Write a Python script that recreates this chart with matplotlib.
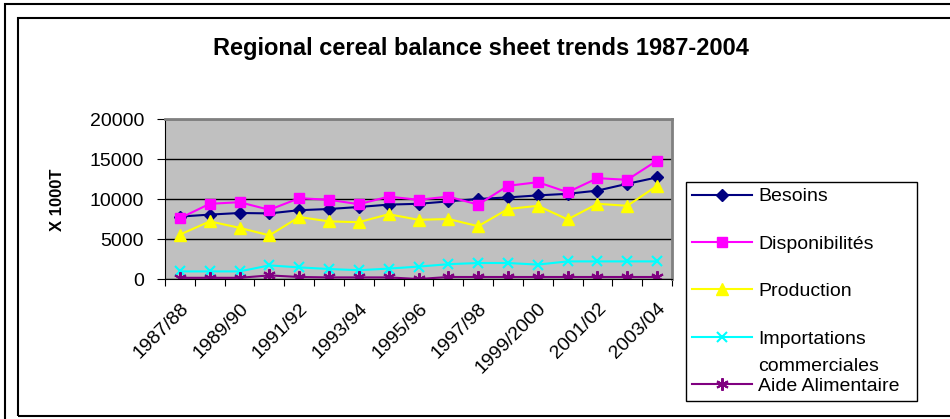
import matplotlib.pyplot as plt
from matplotlib.patches import Rectangle
import numpy as np

seasons = ["1987/88", "1988/89", "1989/90", "1990/91", "1991/92", "1992/93",
           "1993/94", "1994/95", "1995/96", "1996/97", "1997/98", "1998/99",
           "1999/2000", "2000/01", "2001/02", "2002/03", "2003/04"]
besoins = [7800, 8050, 8250, 8200, 8600, 8750, 9000, 9300, 9400,
           9700, 10000, 10200, 10450, 10650, 11050, 11900, 12700]
disponibilites = [7600, 9400, 9600, 8650, 10100, 9900, 9350, 10300, 9900,
                  10300, 9300, 11650, 12100, 10850, 12600, 12400, 14800]
production = [5550, 7200, 6400, 5450, 7750, 7200, 7100, 8100, 7400,
              7500, 6600, 8750, 9150, 7450, 9400, 9150, 11650]
importations = [950, 950, 950, 1700, 1450, 1250, 1100, 1300, 1550,
                1850, 2000, 2000, 1800, 2200, 2200, 2200, 2200]
aide = [150, 150, 150, 450, 250, 200, 200, 200, 0,
        250, 250, 250, 250, 250, 250, 250, 250]
yticks = [0, 5000, 10000, 15000, 20000]

plt.rcParams['font.family'] = ['Liberation Sans', 'DejaVu Sans']

W, H = 950, 419
fig = plt.figure(figsize=(W / 100, H / 100), dpi=100)

def px(x0, y0, x1, y1):
    # pixel box (from top left) -> figure fraction [l, b, w, h]
    return [x0 / W, 1 - y1 / H, (x1 - x0) / W, (y1 - y0) / H]

# double outer frame (cut at the right and bottom like the reference)
fig.add_artist(Rectangle((5 / W, -0.1), 1.2, 1 - 4 / H + 0.1, transform=fig.transFigure,
                         fill=False, edgecolor="black", lw=1.5))
fig.add_artist(Rectangle((18 / W, 1 - 416 / H), 1.2, (416 - 18) / H, transform=fig.transFigure,
                         fill=False, edgecolor="black", lw=1.5))

ax = fig.add_axes(px(165, 119, 672, 279))
ax.set_facecolor("#C0C0C0")

x = np.arange(len(seasons))
ax.plot(x, besoins, color="#000080", marker="D", ms=6.5, lw=1.5, label="Besoins")
ax.plot(x, disponibilites, color="#FF00FF", marker="s", ms=7, lw=1.5, label="Disponibilités")
ax.plot(x, production, color="#FFFF00", marker="^", ms=8, lw=1.5, label="Production")
ax.plot(x, importations, color="#00FFFF", marker="x", ms=7, mew=1.5, lw=1.5,
        label="Importations")
ax.plot(x, aide, color="#800080", marker=(6, 2, 0), ms=9, mew=1.5, lw=1.5,
        label="Aide Alimentaire")

ax.set_xlim(-0.5, len(seasons) - 0.5)
ax.set_ylim(0, 20000)
ax.set_yticks(yticks)
ax.set_yticklabels([str(v) for v in yticks])
ax.yaxis.grid(True, color="black", lw=1)
ax.set_axisbelow(True)

# tick marks between categories, labels on every other category
ax.set_xticks(np.arange(len(seasons) + 1) - 0.5)
ax.set_xticklabels([])
ax.set_xticks(x, [s if i % 2 == 0 else "" for i, s in enumerate(seasons)], minor=True)
ax.tick_params(axis="x", which="major", direction="out", length=5, color="black")
ax.tick_params(axis="x", which="minor", length=0, pad=15, labelsize=14)
for lab in ax.get_xticklabels(minor=True):
    lab.set_rotation(45)
    lab.set_ha("right")
    lab.set_va("top")
    lab.set_rotation_mode("anchor")
ax.tick_params(axis="y", direction="out", length=6, pad=9, labelsize=14)

for side in ["top", "right"]:
    ax.spines[side].set_color("#808080")
    ax.spines[side].set_linewidth(2)
ax.spines["left"].set_color("black")
ax.spines["bottom"].set_color("black")

fig.text(481 / W, 1 - 48 / H, "Regional cereal balance sheet trends 1987-2004",
         ha="center", va="center", fontsize=17, fontweight="bold")
fig.text(57 / W, 1 - 200 / H, "X 1000T", rotation=90, ha="center", va="center",
         fontsize=12, fontweight="bold")

leg = ax.legend(loc="upper left", bbox_to_anchor=px(686, 182, 917, 410),
                bbox_transform=fig.transFigure, mode="expand", fontsize=14,
                frameon=True, fancybox=False, edgecolor="black", framealpha=1,
                borderaxespad=0, borderpad=0.3, labelspacing=1.53,
                handlelength=3.1, handletextpad=0.3)
leg.get_frame().set_linewidth(1)

# second line of "Importations commerciales", squeezed in like the original
fig.canvas.draw()
bb = leg.get_texts()[3].get_window_extent()
fig.text(bb.x0 / W, (bb.y0 + bb.y1) / 2 / H - 27 / H, "commerciales",
         ha="left", va="center", fontsize=14)

fig.savefig("out.png", dpi=100)
